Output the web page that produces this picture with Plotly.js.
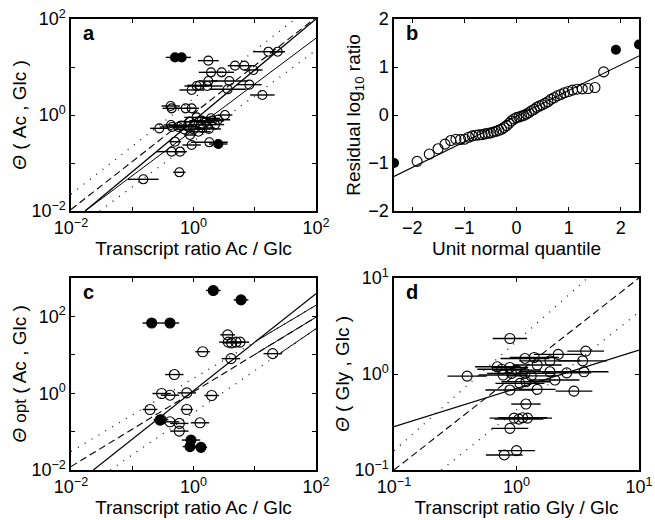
<!DOCTYPE html>
<html><head><meta charset="utf-8">
<script src="https://cdn.plot.ly/plotly-3.0.1.min.js"></script>
<style>body{margin:0;padding:0;background:#fff}#chart{width:655px;height:520px}</style>
</head><body><div id="chart"></div>
<script>
// ---------- Panel a (log10 values) ----------
const aOpenLX = [0.242,0.678,0.830,0.977,1.222,1.374,0.460,0.286,0.242,0.052,0.10,-0.030,0.226,0.585,0.558,0.912,1.124,-0.373,-0.357,-0.128,-0.030,0.514,0.286,0.133,-0.057,-0.558,-0.367,-0.20,-0.10,0.00,0.15,0.25,-0.057,-0.302,-0.030,0.259,-0.357,-0.220,-0.231,-0.819,0.05,0.20,0.35,-0.15,0.08,0.30,-0.25,0.12,-0.35,0.40];
const aOpenLY = [1.132,1.028,1.028,0.938,1.319,1.319,0.889,0.889,0.708,0.604,0.62,0.521,0.604,0.708,0.535,0.632,0.417,0.188,0.139,0.139,0.139,0.000,-0.069,-0.118,-0.139,-0.278,-0.208,-0.22,-0.24,-0.30,-0.27,-0.29,-0.417,-0.556,-0.625,-0.569,-0.764,-0.764,-1.194,-1.340,-0.05,-0.15,-0.20,-0.30,-0.35,-0.12,-0.25,-0.20,-0.25,-0.10];
const aOpenErr = [0.17,0.12,0.12,0.15,0.25,0.12,0.20,0.20,0.15,0.20,0.20,0.20,0.25,0.30,0.30,0.20,0.20,0.15,0.15,0.15,0.12,0.12,0.15,0.20,0.20,0.15,0.12,0.20,0.20,0.20,0.20,0.20,0.10,0.10,0.15,0.30,0.25,0.10,0.10,0.25,0.20,0.15,0.15,0.15,0.20,0.20,0.15,0.20,0.20,0.20];
const aFillLX = [-0.302,-0.193,0.405];
const aFillLY = [1.20,1.20,-0.604];
const aFillErr = [0.15,0.15,0.15];
const aSolidLX = [-1.77,2], aSolidLY = [-2,2];
const aThinLX = [-1.77,2], aThinLY = [-2,1.60];
const aDashLX = [-2,1.97], aDashLY = [-1.97,2];
const aDotUpLX = [-2,1.66], aDotUpLY = [-1.65,2];
const aDotLoLX = [-1.53,2], aDotLoLY = [-2,1.35];

// ---------- Panel b ----------
const bOpenQ = [-1.907,-1.673,-1.505,-1.372,-1.261,-1.162,-1.073,-0.993,-0.918,-0.848,-0.782,-0.720,-0.660,-0.602,-0.546,-0.492,-0.440,-0.388,-0.338,-0.288,-0.239,-0.190,-0.142,-0.095,-0.047,0,0.047,0.095,0.142,0.190,0.239,0.288,0.338,0.388,0.440,0.492,0.546,0.602,0.660,0.720,0.782,0.848,0.918,0.993,1.073,1.162,1.261,1.372,1.505,1.673];
const bOpenR = [-0.966,-0.814,-0.704,-0.607,-0.532,-0.504,-0.51,-0.504,-0.463,-0.435,-0.422,-0.415,-0.408,-0.394,-0.380,-0.373,-0.353,-0.339,-0.318,-0.297,-0.263,-0.221,-0.173,-0.124,-0.083,-0.055,-0.041,-0.021,-0.007,0.021,0.048,0.090,0.117,0.159,0.187,0.214,0.242,0.276,0.325,0.359,0.400,0.428,0.463,0.490,0.518,0.538,0.545,0.552,0.573,0.898];
const bFillQ = [-2.349,1.907,2.349];
const bFillR = [-1.0,1.36,1.47];
const bLineQ = [-2.35,2.35], bLineR = [-1.28,1.23];

// ---------- Panel c (log10 values) ----------
const cOpenLX = [0.558,0.568,0.623,0.694,0.759,0.612,1.293,0.150,-0.313,-0.520,-0.384,-0.110,0.297,-0.710,-0.110,-0.530,-0.384,-0.232,-0.232,0.106];
const cOpenLY = [1.52,1.33,1.31,1.33,1.33,0.90,1.03,1.08,0.486,-0.008,-0.052,0.008,-0.06,-0.424,-0.424,-0.69,-0.745,-0.787,-0.987,-0.771];
const cOpenErr = [0.12,0.15,0.15,0.15,0.15,0.15,0.15,0.12,0.15,0.15,0.15,0.15,0.12,0.12,0.10,0.12,0.15,0.15,0.15,0.15];
const cFillLX = [-0.683,-0.384,0.323,0.776,-0.547,-0.041,-0.057,0.122];
const cFillLY = [1.827,1.827,2.675,2.43,-0.70,-1.22,-1.39,-1.41];
const cFillErr = [0.15,0.15,0.12,0.12,0.10,0.15,0.12,0.10];
const cSolidLX = [-1.635,2], cSolidLY = [-2,2.59];
const cDashLX = [-2,2], cDashLY = [-1.91,1.98];
const cDotUpLX = [-2,2], cDotUpLY = [-1.52,2.29];
const cDotLoLX = [-1.36,2], cDotLoLY = [-2,1.68];
const cThinStart = [1.0,1.0,1.4]; // start (log x) of thin solid overlays on dashed/dotted

// ---------- Panel d (log10 values) ----------
const dOpenLX = [-0.054,-0.403,-0.158,-0.054,-0.109,-0.040,0.069,0.145,0.069,0.077,0.169,0.273,0.341,0.273,0.410,0.314,0.565,0.540,0.551,0.169,-0.054,0.469,0.028,0.077,-0.020,0.020,0.050,0.090,-0.054,0.000,-0.100,-0.120,0.000,0.120];
const dOpenLY = [0.370,-0.022,0.075,0.068,-0.011,0.006,0.162,0.172,0.006,-0.081,0.093,0.137,0.204,0.023,0.012,-0.063,0.238,0.137,0.023,-0.160,-0.167,-0.178,-0.098,-0.313,-0.460,-0.470,-0.455,-0.460,-0.566,-0.798,-0.843,0.050,0.040,-0.020];
const dOpenErr = [0.14,0.16,0.18,0.15,0.20,0.20,0.20,0.20,0.25,0.20,0.20,0.25,0.20,0.25,0.20,0.20,0.15,0.20,0.20,0.15,0.20,0.15,0.20,0.12,0.20,0.20,0.20,0.20,0.15,0.15,0.15,0.20,0.20,0.20];
const dSolidLX = [-1,1], dSolidLY = [-0.549,0.248];
const dDashLX = [-1,1], dDashLY = [-1,1];
const dDotUpLX = [-1,0.58], dDotUpLY = [-0.80,1.0];
const dDotLoLX = [-0.613,1], dDotLoLY = [-1,0.646];

// ---------- helpers ----------
const p10 = a => a.map(v => Math.pow(10, v));
function errX(lx, e){
  const x = p10(lx);
  return {type:'data', symmetric:false,
    array: x.map((v,i)=>v*(Math.pow(10,e[i])-1)),
    arrayminus: x.map((v,i)=>v*(1-Math.pow(10,-e[i]))),
    width:0, thickness:1.4, color:'#000'};
}
function pts(lx, ly, e, filled, xa, ya, size){
  return {type:'scatter', mode:'markers', x:p10(lx), y:p10(ly), xaxis:xa, yaxis:ya,
    error_x: errX(lx, e),
    marker:{symbol: filled ? 'circle' : 'circle-open', size:size, color:'#000', line:{color:'#000', width:1.1}},
    showlegend:false, hoverinfo:'skip'};
}
function line(lx, ly, dash, w, xa, ya, log){
  return {type:'scatter', mode:'lines', x: log ? p10(lx) : lx, y: log ? p10(ly) : ly, xaxis:xa, yaxis:ya,
    line:{color:'#000', width:w, dash:dash}, showlegend:false, hoverinfo:'skip'};
}
function overlay(lx, ly, x0){
  const s = (ly[1]-ly[0])/(lx[1]-lx[0]);
  return [[x0, lx[1]], [ly[0]+s*(x0-lx[0]), ly[1]]];
}
const DOT = '1px,7px', DASH = '7px,4px';

const traces = [];
// a
traces.push(line(aDotUpLX,aDotUpLY,DOT,1.2,'x','y',true));
traces.push(line(aDotLoLX,aDotLoLY,DOT,1.2,'x','y',true));
traces.push(line(aDashLX,aDashLY,DASH,1.1,'x','y',true));
traces.push(line(aThinLX,aThinLY,'solid',1.0,'x','y',true));
traces.push(line(aSolidLX,aSolidLY,'solid',1.3,'x','y',true));
traces.push(pts(aOpenLX,aOpenLY,aOpenErr,false,'x','y',9));
traces.push(pts(aFillLX,aFillLY,aFillErr,true,'x','y',9));
// b
traces.push(line(bLineQ,bLineR,'solid',1.1,'x2','y2',false));
traces.push({type:'scatter',mode:'markers',x:bOpenQ,y:bOpenR,xaxis:'x2',yaxis:'y2',
  marker:{symbol:'circle-open',size:10,color:'#000',line:{width:1.1}},showlegend:false,hoverinfo:'skip'});
traces.push({type:'scatter',mode:'markers',x:bFillQ,y:bFillR,xaxis:'x2',yaxis:'y2',
  marker:{symbol:'circle',size:10,color:'#000'},showlegend:false,hoverinfo:'skip'});
// c
traces.push(line(cDotUpLX,cDotUpLY,DOT,1.2,'x3','y3',true));
traces.push(line(cDotLoLX,cDotLoLY,DOT,1.2,'x3','y3',true));
traces.push(line(cDashLX,cDashLY,DASH,1.1,'x3','y3',true));
[[cDotUpLX,cDotUpLY,cThinStart[0]],[cDashLX,cDashLY,cThinStart[1]],[cDotLoLX,cDotLoLY,cThinStart[2]]].forEach(([lx,ly,x0])=>{
  const o = overlay(lx,ly,x0); traces.push(line(o[0],o[1],'solid',1.0,'x3','y3',true));
});
traces.push(line(cSolidLX,cSolidLY,'solid',1.2,'x3','y3',true));
traces.push(pts(cOpenLX,cOpenLY,cOpenErr,false,'x3','y3',10));
traces.push(pts(cFillLX,cFillLY,cFillErr,true,'x3','y3',10));
// d
traces.push(line(dDotUpLX,dDotUpLY,DOT,1.2,'x4','y4',true));
traces.push(line(dDotLoLX,dDotLoLY,DOT,1.2,'x4','y4',true));
traces.push(line(dDashLX,dDashLY,DASH,1.1,'x4','y4',true));
traces.push(line(dSolidLX,dSolidLY,'solid',1.2,'x4','y4',true));
traces.push(pts(dOpenLX,dOpenLY,dOpenErr,false,'x4','y4',10));

const FONT = 'Liberation Sans, Arial, Helvetica, sans-serif';
const sup = s => '10<sup>' + s + '</sup>';
const TICKF = {size:18, family:FONT, color:'#000'};
const tf = {size:19, family:FONT, color:'#000'};
function ax(extra){
  return Object.assign({showline:true, linecolor:'#000', linewidth:1.6, mirror:'ticks',
    ticks:'inside', ticklen:4, tickwidth:1, tickcolor:'#000', showgrid:false, zeroline:false,
    tickfont:TICKF, fixedrange:true}, extra);
}
const minorT = vals => ({minor:{tickmode:'array', tickvals:vals, ticks:'inside', ticklen:4, tickwidth:1, tickcolor:'#000', showgrid:false}});
const logTicks4 = Object.assign({tickmode:'array', tickvals:[0.01,1,100], ticktext:[sup('−2'),sup('0'),sup('2')]}, minorT([0.1,10]));
const logTicksC = Object.assign({tickmode:'array', tickvals:[0.01,1,100], ticktext:[sup('−2'),sup('0'),sup('2')]}, minorT([0.1,10]));
const logTicksD = {tickmode:'array', tickvals:[0.1,1,10], ticktext:[sup('−1'),sup('0'),sup('1')]};

const W = 655, H = 520;
const dx = (l,r)=>[l/W, r/W], dy = (t,b)=>[1-b/H, 1-t/H];

const layout = {
  width:W, height:H, margin:{l:0,r:0,t:0,b:0}, paper_bgcolor:'#fff', plot_bgcolor:'#fff',
  font:{family:FONT, color:'#000'}, showlegend:false,
  xaxis: ax(Object.assign({type:'log', range:[-2,2], domain:dx(71,316), anchor:'y',
    title:{text:'Transcript ratio Ac / Glc', font:tf, standoff:2}}, logTicks4)),
  yaxis: ax(Object.assign({type:'log', range:[-2,2], domain:dy(19,211), anchor:'x',
    title:{text:'<i>Θ</i> ( Ac , Glc )', font:tf, standoff:0}}, logTicks4)),
  xaxis2: ax({range:[-2.35,2.35], domain:dx(394,639), anchor:'y2', tickvals:[-2,-1,0,1,2], ticktext:['−2','−1','0','1','2'],
    title:{text:'Unit normal quantile', font:tf, standoff:2}}),
  yaxis2: ax({range:[-2,2], domain:dy(19,211), anchor:'x2', tickvals:[-2,-1,0,1,2], ticktext:['−2','−1','0','1','2'],
    title:{text:'Residual log<sub>10</sub> ratio', font:tf, standoff:2}}),
  xaxis3: ax(Object.assign({type:'log', range:[-2,2], domain:dx(71,316), anchor:'y3',
    title:{text:'Transcript ratio Ac / Glc', font:tf, standoff:2}}, logTicks4)),
  yaxis3: ax(Object.assign({type:'log', range:[-2,3], domain:dy(278,470), anchor:'x3',
    title:{text:'<i>Θ</i> <span style="font-size:17px">opt</span> ( Ac , Glc )', font:tf, standoff:0}}, logTicksC)),
  xaxis4: ax(Object.assign({type:'log', range:[-1,1], domain:dx(394,639), anchor:'y4',
    title:{text:'Transcript ratio Gly / Glc', font:tf, standoff:2}}, logTicksD)),
  yaxis4: ax(Object.assign({type:'log', range:[-1,1], domain:dy(278,470), anchor:'x4',
    title:{text:'<i>Θ</i> ( Gly , Glc )', font:tf, standoff:0}}, logTicksD)),
  annotations: [
    {text:'<b>a</b>', x:81/W, y:1-33/H, xref:'paper', yref:'paper', xanchor:'left', yanchor:'middle', showarrow:false, font:{size:20, family:FONT}},
    {text:'<b>b</b>', x:404/W, y:1-33/H, xref:'paper', yref:'paper', xanchor:'left', yanchor:'middle', showarrow:false, font:{size:20, family:FONT}},
    {text:'<b>c</b>', x:81/W, y:1-292/H, xref:'paper', yref:'paper', xanchor:'left', yanchor:'middle', showarrow:false, font:{size:20, family:FONT}},
    {text:'<b>d</b>', x:404/W, y:1-292/H, xref:'paper', yref:'paper', xanchor:'left', yanchor:'middle', showarrow:false, font:{size:20, family:FONT}}
  ]
};
Plotly.newPlot('chart', traces, layout, {staticPlot:true, displayModeBar:false});
</script></body></html>
